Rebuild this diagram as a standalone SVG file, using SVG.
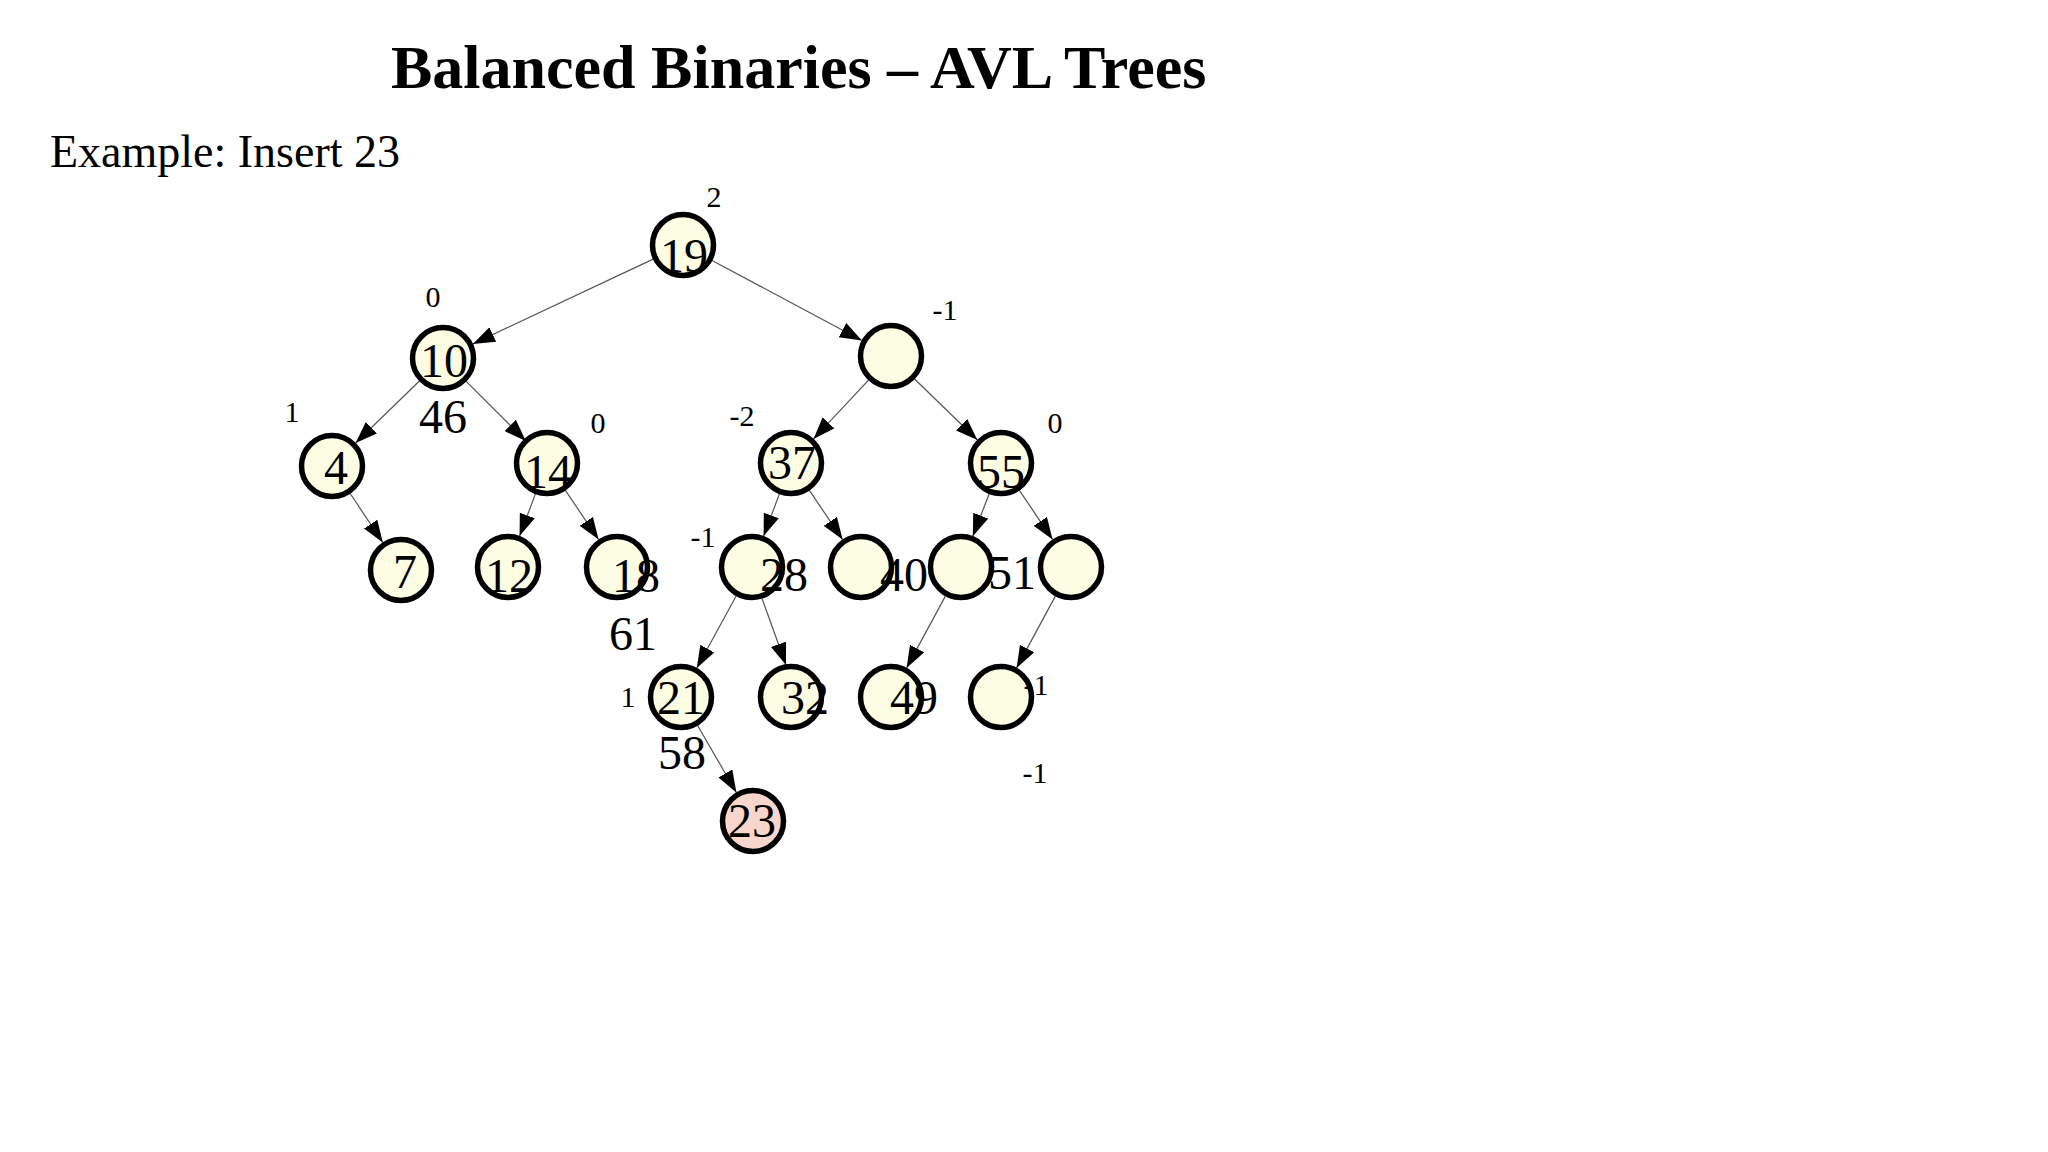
<svg xmlns="http://www.w3.org/2000/svg" width="2048" height="1152" viewBox="0 0 2048 1152">
<style>
.bg{fill:#ffffff}
.title{font-family:"Liberation Serif","Times New Roman",serif;font-weight:bold;font-size:62px;fill:#000}
.sub{font-family:"Liberation Serif","Times New Roman",serif;font-size:46px;fill:#000}
.node circle{fill:#fdfde4;stroke:#000;stroke-width:5.5}
.node.new circle{fill:#f9d6cb}
.lbl{font-family:"Liberation Serif","Times New Roman",serif;font-size:48px;fill:#000;text-anchor:middle}
.bal{font-family:"Liberation Serif","Times New Roman",serif;font-size:30px;fill:#000;text-anchor:middle}
.edge{stroke:#555;stroke-width:1.2;fill:none;marker-end:url(#arr)}
</style>
<defs>
<marker id="arr" markerUnits="userSpaceOnUse" markerWidth="24" markerHeight="18" refX="22" refY="8" orient="auto">
<path d="M0,0 L22,8 L0,16 z" fill="#000"/>
</marker>
</defs>
<rect class="bg" x="0" y="0" width="2048" height="1152"/>
<text class="title" x="391" y="88">Balanced Binaries – AVL Trees</text>
<text class="sub" x="50" y="167">Example: Insert 23</text>

<g id="edges">
<line class="edge" x1="653.1" y1="259.1" x2="472.9" y2="343.9"/>
<line class="edge" x1="712.1" y1="260.5" x2="861.9" y2="340.5"/>
<line class="edge" x1="419.4" y1="381" x2="355.6" y2="443"/>
<line class="edge" x1="466.2" y1="381.4" x2="525.8" y2="441"/>
<line class="edge" x1="350.2" y1="493.5" x2="382.8" y2="542.5"/>
<line class="edge" x1="535.4" y1="493.9" x2="519.6" y2="536.1"/>
<line class="edge" x1="565.4" y1="490.4" x2="598.6" y2="539.6"/>
<line class="edge" x1="868.5" y1="380.1" x2="813.5" y2="438.9"/>
<line class="edge" x1="914.6" y1="379" x2="977.4" y2="440"/>
<line class="edge" x1="779.4" y1="493.9" x2="763.6" y2="536.1"/>
<line class="edge" x1="809.4" y1="490.4" x2="842.6" y2="539.6"/>
<line class="edge" x1="989.2" y1="493.8" x2="972.8" y2="536.2"/>
<line class="edge" x1="1019.4" y1="490.4" x2="1052.6" y2="539.6"/>
<line class="edge" x1="736.2" y1="596" x2="696.8" y2="668"/>
<line class="edge" x1="762" y1="598.5" x2="786" y2="665"/>
<line class="edge" x1="945.4" y1="596.1" x2="906.6" y2="667.9"/>
<line class="edge" x1="1055.4" y1="596.1" x2="1016.6" y2="667.9"/>
<line class="edge" x1="697.6" y1="725.5" x2="736.4" y2="792.5"/>
</g>

<g id="n19" class="node"><circle cx="683" cy="245" r="30.5"/><text class="lbl" x="684" y="272">19</text></g>
<g id="n10" class="node"><circle cx="443" cy="358" r="30.5"/><text class="lbl" x="444" y="377">10</text></g>
<g id="nR" class="node"><circle cx="891" cy="356" r="30.5"/></g>
<g id="n4" class="node"><circle cx="332" cy="466" r="30.5"/><text class="lbl" x="336" y="484">4</text></g>
<g id="n14" class="node"><circle cx="547" cy="463" r="30.5"/><text class="lbl" x="548" y="488">14</text></g>
<g id="n37" class="node"><circle cx="791" cy="463" r="30.5"/><text class="lbl" x="792" y="479">37</text></g>
<g id="n55" class="node"><circle cx="1001" cy="463" r="30.5"/><text class="lbl" x="1001" y="488">55</text></g>
<g id="n7" class="node"><circle cx="401" cy="570" r="30.5"/><text class="lbl" x="405" y="588">7</text></g>
<g id="n12" class="node"><circle cx="508" cy="567" r="30.5"/><text class="lbl" x="509" y="592">12</text></g>
<g id="n18" class="node"><circle cx="617" cy="567" r="30.5"/></g>
<g id="n28" class="node"><circle cx="752" cy="567" r="30.5"/></g>
<g id="n40" class="node"><circle cx="861" cy="567" r="30.5"/></g>
<g id="n51" class="node"><circle cx="961" cy="567" r="30.5"/></g>
<g id="nRR" class="node"><circle cx="1071" cy="567" r="30.5"/></g>
<g id="n21" class="node"><circle cx="681" cy="697" r="30.5"/><text class="lbl" x="681" y="714">21</text></g>
<g id="n32" class="node"><circle cx="791" cy="697" r="30.5"/></g>
<g id="n49" class="node"><circle cx="891" cy="697" r="30.5"/></g>
<g id="nE" class="node"><circle cx="1001" cy="697" r="30.5"/></g>
<g id="n23" class="node new"><circle cx="753" cy="821" r="30.5"/><text class="lbl" x="752" y="837">23</text></g>

<g id="labels">
<text class="lbl" x="443" y="433">46</text>
<text class="lbl" x="636" y="592">18</text>
<text class="lbl" x="784" y="591">28</text>
<text class="lbl" x="904" y="591">40</text>
<text class="lbl" x="1012" y="589">51</text>
<text class="lbl" x="633" y="650">61</text>
<text class="lbl" x="805" y="714">32</text>
<text class="lbl" x="914" y="714">49</text>
<text class="lbl" x="682" y="769">58</text>
<text class="bal" x="714" y="207">2</text>
<text class="bal" x="433" y="307">0</text>
<text class="bal" x="292" y="422">1</text>
<text class="bal" x="598" y="433">0</text>
<text class="bal" x="945" y="320">-1</text>
<text class="bal" x="742" y="426">-2</text>
<text class="bal" x="1055" y="433">0</text>
<text class="bal" x="703" y="547">-1</text>
<text class="bal" x="628" y="707">1</text>
<text class="bal" x="1036" y="695">-1</text>
<text class="bal" x="1035" y="783">-1</text>
</g>
</svg>
